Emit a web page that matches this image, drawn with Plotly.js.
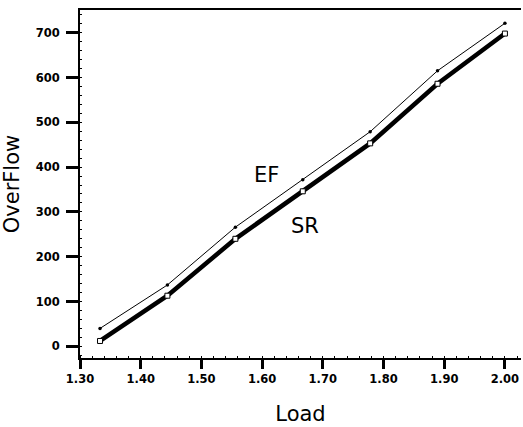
<!DOCTYPE html>
<html>
<head>
<meta charset="utf-8">
<script src="https://cdn.plot.ly/plotly-3.0.1.min.js"></script>
<style>html,body{margin:0;padding:0;background:#fff;}#chart{width:523px;height:427px;}</style>
</head>
<body>
<div id="chart"></div>
<script>
var load = [1.333, 1.444, 1.556, 1.667, 1.778, 1.889, 2.0];
var efValues = [40, 137, 266, 372, 479, 615, 721];
var srValues = [12, 113, 240, 346, 453, 586, 698];
var xTickVals = [1.30, 1.40, 1.50, 1.60, 1.70, 1.80, 1.90, 2.00];
var xTickText = ['1.30', '1.40', '1.50', '1.60', '1.70', '1.80', '1.90', '2.00'];
var yTickVals = [0, 100, 200, 300, 400, 500, 600, 700];
var seriesLabels = ['EF', 'SR'];

var traces = [
  {
    x: load, y: efValues, name: seriesLabels[0], mode: 'lines+markers',
    line: {color: '#000', width: 1},
    marker: {symbol: 'circle', size: 3.5, color: '#000'}
  },
  {
    x: load, y: srValues, name: seriesLabels[1], mode: 'lines+markers',
    line: {color: '#000', width: 4.5},
    marker: {symbol: 'square', size: 5, color: '#fff', line: {color: '#000', width: 1}}
  }
];

var tickFont = {family: 'DejaVu Sans', size: 11.5, color: '#000', weight: 'bold'};
var titleFont = {family: 'DejaVu Sans', size: 21, color: '#000'};

var layout = {
  width: 523, height: 427, autosize: false,
  margin: {l: 80, r: 2, t: 10, b: 69},
  paper_bgcolor: '#fff', plot_bgcolor: '#fff',
  showlegend: false,
  xaxis: {
    range: [1.30, 2.0265], tickvals: xTickVals, ticktext: xTickText,
    showgrid: false, zeroline: false,
    showline: true, linecolor: '#000', linewidth: 2, mirror: true,
    ticks: 'outside', ticklen: 9, tickwidth: 3, tickcolor: '#000',
    tickfont: tickFont,
    minor: {dtick: 0.02, ticks: 'inside', ticklen: 2, tickwidth: 1, tickcolor: '#000'},
    title: {text: 'Load', font: titleFont, standoff: 22}
  },
  yaxis: {
    range: [-26, 750.6], tickvals: yTickVals,
    showgrid: false, zeroline: false,
    showline: true, linecolor: '#000', linewidth: 2, mirror: false,
    ticks: 'outside', ticklen: 12, tickwidth: 3, tickcolor: '#000',
    tickfont: tickFont, ticklabelstandoff: 4,
    minor: {dtick: 20, ticks: 'inside', ticklen: 2, tickwidth: 1, tickcolor: '#000'},
    title: {text: 'OverFlow', font: titleFont, standoff: 14}
  },
  annotations: [
    {x: 1.608, y: 383, xref: 'x', yref: 'y', text: seriesLabels[0], showarrow: false, font: titleFont},
    {x: 1.671, y: 269, xref: 'x', yref: 'y', text: seriesLabels[1], showarrow: false, font: titleFont}
  ]
};

Plotly.newPlot('chart', traces, layout, {displayModeBar: false, staticPlot: true});
</script>
</body>
</html>
